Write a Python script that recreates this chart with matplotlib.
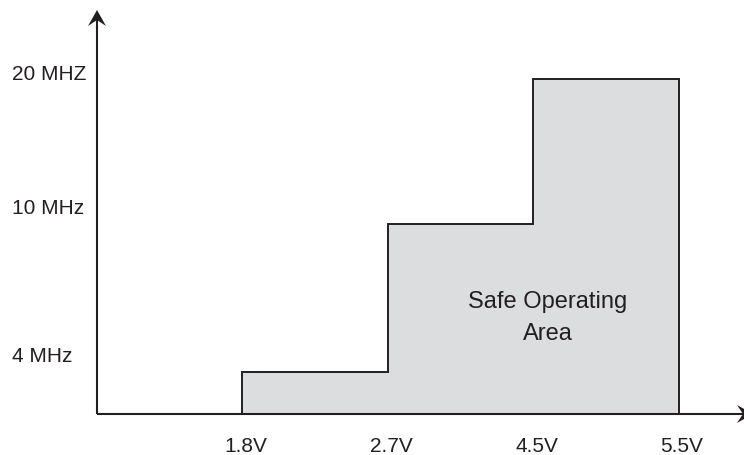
import matplotlib
matplotlib.use("Agg")
import matplotlib.pyplot as plt

plt.rcParams['font.family'] = ['Liberation Sans', 'DejaVu Sans']

# Data
voltages = ["1.8V", "2.7V", "4.5V", "5.5V"]
volt_pos = [1, 2, 3, 4]              # categorical positions along x
freq_labels = ["4 MHz", "10 MHz", "20 MHZ"]
freq_label_pos = [0.36, 1.37, 2.29]  # label baselines on y
step_levels = [0.29, 1.30, 2.29]     # height of each operating step

INK = "#231f20"
FILL = "#dcdddf"

W, H = 744, 456
fig = plt.figure(figsize=(W / 100, H / 100), dpi=100)
ox, oy = 97, 415
xs, ys = 145.5, 146.5
ax = fig.add_axes([ox / W, (H - oy) / H, (W - ox) / W, oy / H])
ax.set_xlim(0, (W - ox) / xs)
ax.set_ylim(0, oy / ys)
ax.axis("off")

def px(dx):
    return dx / xs

def py(dy):
    return dy / ys

# step outline
sx = [volt_pos[0]]
sy = [0]
for i, lvl in enumerate(step_levels):
    sx += [volt_pos[i], volt_pos[i + 1]]
    sy += [lvl, lvl]
sx.append(volt_pos[-1])
sy.append(0)
ax.fill(sx, sy, color=FILL, zorder=1, lw=0)
ax.plot(sx, sy, color=INK, lw=1.4, zorder=2, solid_joinstyle="miter")

# axes lines
ytop = py(oy - 11)
ax.plot([0, 0], [0, ytop - py(8)], color=INK, lw=1.5, zorder=3, clip_on=False,
        solid_capstyle="butt")
xend = px(W - ox + 9)
ax.plot([0, xend - px(4)], [0, 0], color=INK, lw=1.5, zorder=3, clip_on=False,
        solid_capstyle="butt")

# chevron arrowheads
ax.fill([0, px(9), 0, px(-9)], [ytop, ytop - py(16), ytop - py(10), ytop - py(16)],
        color=INK, lw=0, zorder=4, clip_on=False)
ax.fill([xend, xend - px(16), xend - px(10), xend - px(16)], [0, py(9), 0, py(-9)],
        color=INK, lw=0, zorder=4, clip_on=False)

# tick labels
for v, p in zip(voltages, volt_pos):
    ax.text(p + px(3), py(-37), v, ha="center", va="baseline", fontsize=15,
            color=INK, clip_on=False)
for f, p in zip(freq_labels, freq_label_pos):
    ax.text(px(12 - ox), p, f, ha="left", va="baseline", fontsize=15,
            color=INK, clip_on=False)

ax.text(3.096, 0.66, "Safe Operating\nArea", ha="center", va="center",
        fontsize=17, color=INK, linespacing=1.6)

fig.savefig("out.png", dpi=100)
